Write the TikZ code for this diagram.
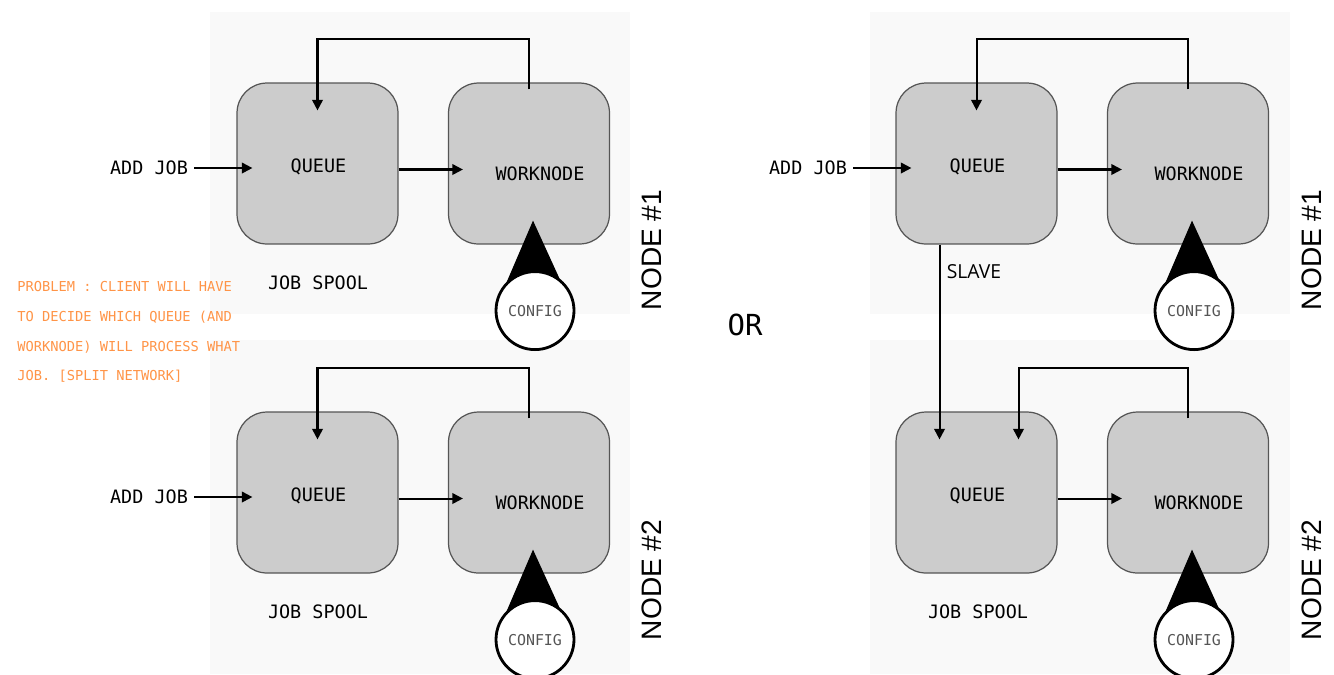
\documentclass[tikz,border=0pt]{standalone}
\usepackage{fontspec}
\usetikzlibrary{calc,arrows.meta}
\newfontfamily\monofont{DejaVu Sans Mono}
\newfontfamily\nodefont{Liberation Sans}
\newfontfamily\slavefont{Open Sans}
\definecolor{panel}{HTML}{F9F9F9}
\definecolor{boxgray}{HTML}{CCCCCC}
\definecolor{boxline}{HTML}{555555}
\definecolor{problem}{HTML}{FF9447}

\begin{document}
\begin{tikzpicture}
		[x=0.02cm,y=-0.02cm,>={Triangle[length=6pt,width=6pt]}]
			\tikzstyle{every node}=[font=\monofont\fontsize{10.5}{12}\selectfont, inner sep=0pt]
			\tikzstyle{box}=[draw=boxline, fill=boxgray, rounded corners=0.6cm,
		minimum width=3.22cm, minimum height=3.22cm, line width=0.7pt]
			\tikzstyle{config}=[circle, draw, line width=1.6pt, fill=white,
		minimum size=1.56cm, text=boxline, font=\monofont\fontsize{8.5}{10}\selectfont]
			\tikzstyle{nodelabel}=[rotate=90, font=\nodefont\fontsize{16}{18}\selectfont]
			\tikzstyle{arr}=[->, line width=1.15pt]
		\useasboundingbox (0,0) rectangle (1334,674);
		%-----panels
		 \fill[panel] (210,12) rectangle (630,314);
		 \fill[panel] (210,340) rectangle (630,674);
		 \fill[panel] (870,12) rectangle (1290,314);
		 \fill[panel] (870,340) rectangle (1290,674);
		%-----boxes
		 \node[box, label={[shift={(1,3)}]center:QUEUE}]  (Q1) at (317.5,163.5) {};
		 \node[box, label={[shift={(11,10)}]center:WORKNODE}]  (W1) at (529,163.5) {};
		 \node[box, label={[shift={(1,3)}]center:QUEUE}]  (Q2) at (317.5,492.5) {};
		 \node[box, label={[shift={(11,10)}]center:WORKNODE}]  (W2) at (529,492.5) {};
		 \node[box, label={[shift={(1,3)}]center:QUEUE}]  (Q3) at (976.5,163.5) {};
		 \node[box, label={[shift={(11,10)}]center:WORKNODE}]  (W3) at (1188,163.5) {};
		 \node[box, label={[shift={(1,3)}]center:QUEUE}]  (Q4) at (976.5,492.5) {};
		 \node[box, label={[shift={(11,10)}]center:WORKNODE}]  (W4) at (1188,492.5) {};
		%-----texts
		 \node  (A1) at (149,168) {ADD JOB};
		 \node  (A2) at (149,497) {ADD JOB};
		 \node  (A3) at (808,168) {ADD JOB};
		 \node  (S1) at (318,283) {JOB SPOOL};
		 \node  (S2) at (318,612) {JOB SPOOL};
		 \node  (S4) at (978,612) {JOB SPOOL};
		 \node[font=\slavefont\fontsize{11}{13}\selectfont]  (SL) at (974,272) {SLAVE};
		 \node[nodelabel]  (N1) at (652,250) {NODE \#1};
		 \node[nodelabel]  (N2) at (652,580) {NODE \#2};
		 \node[nodelabel]  (N3) at (1312,250) {NODE \#1};
		 \node[nodelabel]  (N4) at (1312,580) {NODE \#2};
		 \node[font=\monofont\fontsize{16.5}{18}\selectfont]  (OR) at (745,325) {OR};
		 \node[anchor=west, align=left, text=problem, font=\monofont\fontsize{7.8}{17}\selectfont]  (PB) at (17,332)
		 {PROBLEM : CLIENT WILL HAVE\\TO DECIDE WHICH QUEUE (AND\\WORKNODE) WILL PROCESS WHAT\\JOB. [SPLIT NETWORK]};
		%-----config
		 \foreach \w/\c in {W1/C1,W2/C2,W3/C3,W4/C4}{
		 \fill ($(\w.south)+(4,-24)$) -- ($(\w.south)+(-26,46)$) -- ($(\w.south)+(36,46)$) -- cycle;
		 \node[config]  (\c) at ($(\w.south)+(6,66)$) {CONFIG};
		 }
		%-----arrows
		 \foreach \a/\q in {A1/Q1,A2/Q2,A3/Q3}
		 \draw[arr] (\a.east)++(6,0) -- ($(\q.west |- \a.east)+(16,0)$);
		 \foreach \q/\w in {Q1/W1,Q2/W2,Q3/W3,Q4/W4}
		 \draw[arr] ($(\q.east)+(0,6)$) -- ($(\w.west)+(15,6)$);
		 \foreach \w/\q/\dx in {W1/Q1/0,W2/Q2/0,W3/Q3/0,W4/Q4/42}
		 \draw[arr] ($(\w.north)+(0,7)$) -- ++(0,-50) -| ($(\q.north)+(\dx,28)$);
		 \draw[arr] ($(Q3.south)+(-37,0)$) -- ($(Q4.north)+(-37,28)$);
		 
		 	\end{tikzpicture}
\end{document}
